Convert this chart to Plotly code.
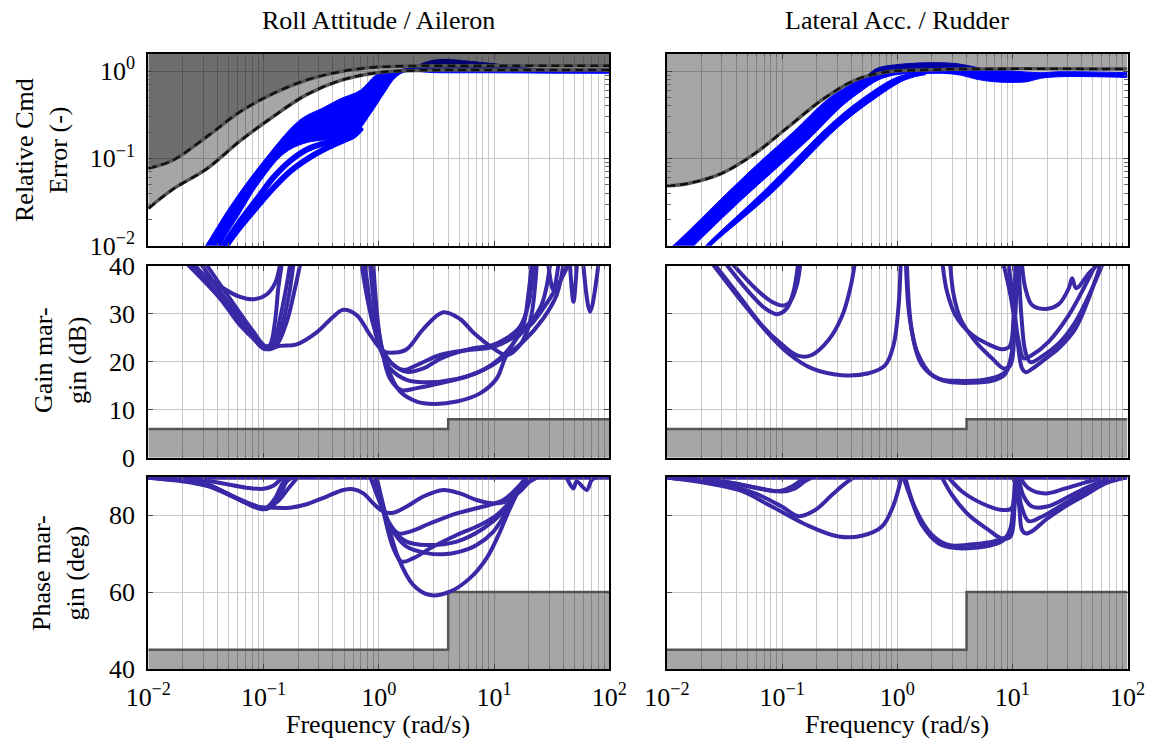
import numpy as np
import plotly.graph_objects as go

# ======================= DATA =======================
# Frequencies are stored as log10(rad/s); top-row magnitudes as log10(-).
freq_ticks = [0.01, 0.1, 1, 10, 100]
freq_ticktext = ['10<sup>−2</sup>', '10<sup>−1</sup>', '10<sup>0</sup>', '10<sup>1</sup>', '10<sup>2</sup>']
cmd_ticks = [0.01, 0.1, 1]
cmd_ticktext = ['10<sup>−2</sup>', '10<sup>−1</sup>', '10<sup>0</sup>']
gm_ticks = [0, 10, 20, 30, 40]
pm_ticks = [40, 60, 80]

col_titles = ['Roll Attitude / Aileron', 'Lateral Acc. / Rudder']
row_titles = ['Relative Cmd<br>Error (-)', 'Gain mar-<br>gin (dB)', 'Phase mar-<br>gin (deg)']
x_title = 'Frequency (rad/s)'

# --- relative command error requirement boundaries ---
roll_outer_lw = [-2.0, -1.783, -1.493, -1.204, -0.915, -0.626, -0.337, -0.048, 0.242, 1.0, 2.0]
roll_outer_lv = [-1.115, -1.019, -0.752, -0.466, -0.256, -0.103, -0.008, 0.042, 0.057, 0.061, 0.061]
roll_inner_lw = [-2.0, -1.783, -1.493, -1.204, -0.915, -0.626, -0.337, -0.048, 0.242, 0.53, 2.0]
roll_inner_lv = [-1.573, -1.35, -1.12, -0.80, -0.52, -0.27, -0.11, -0.025, 0.004, 0.011, 0.011]
lat_bound_lw = [-2.0, -1.815, -1.525, -1.235, -0.945, -0.655, -0.365, -0.076, 0.215, 0.6, 2.0]
lat_bound_lv = [-1.314, -1.287, -1.172, -0.943, -0.638, -0.332, -0.103, -0.008, 0.011, 0.023, 0.023]

# --- relative command error envelopes (upper edge / lower edge) ---
roll_env_up_lw = [-1.65, -1.508, -1.291, -1.012, -0.684, -0.481, -0.337, -0.16, -0.03, 0.05, 0.10, 0.242, 0.30, 0.444, 0.560, 0.733, 0.965, 1.167, 1.312, 1.6, 2.0]
roll_env_up_lv = [-2.30, -2.012, -1.554, -1.05, -0.56, -0.42, -0.32, -0.22, -0.05, 0.0, 0.0, 0.031, 0.049, 0.115, 0.134, 0.118, 0.088, 0.057, 0.031, 0.02, 0.023]
roll_env_lo_lw = [-1.45, -1.378, -1.20, -1.059, -0.828, -0.654, -0.481, -0.337, -0.207, -0.077, 0.053, 0.14, 0.227, 0.5, 1.0, 1.5, 2.0]
roll_env_lo_lv = [-2.30, -2.012, -1.62, -1.32, -0.95, -0.83, -0.79, -0.78, -0.72, -0.50, -0.24, -0.08, -0.01, -0.019, -0.02, -0.024, -0.026]
roll_cmd_lines = [
    ([-1.42, -1.349, -1.204, -1.059, -0.915, -0.770, -0.626, -0.481, -0.35, -0.24, -0.15],
     [-2.2, -2.012, -1.72, -1.47, -1.22, -1.03, -0.90, -0.83, -0.79, -0.74, -0.64]),
    ([-1.38, -1.326, -1.20, -1.074, -0.915, -0.770, -0.60, -0.45, -0.32, -0.22, -0.15],
     [-2.2, -2.012, -1.78, -1.58, -1.34, -1.15, -0.99, -0.88, -0.80, -0.74, -0.65]),
]
lat_wide_up_lw = [-2.1, -1.959, -1.481, -1.191, -0.901, -0.612, -0.438, -0.264, -0.177, -0.032, 0.258, 0.490, 0.635, 0.780, 1.0, 1.243, 1.417, 2.0]
lat_wide_up_lv = [-2.15, -2.012, -1.401, -1.038, -0.695, -0.332, -0.180, -0.05, 0.031, 0.069, 0.095, 0.088, 0.057, 0.019, 0.0, -0.019, -0.008, -0.019]
lat_wide_lo_lw = [-1.87, -1.775, -1.355, -1.066, -0.777, -0.487, -0.340, -0.16, 0.0, 0.2, 0.403, 0.548, 0.693, 0.838, 0.983, 1.128, 1.243, 1.417, 2.0]
lat_wide_lo_lv = [-2.15, -2.012, -1.478, -1.134, -0.790, -0.409, -0.256, -0.10, -0.04, -0.03, -0.027, -0.046, -0.095, -0.122, -0.130, -0.122, -0.084, -0.065, -0.073]
lat_narrow_up_lw = [-1.76, -1.673, -1.151, -0.572, -0.282, 0.008, 0.2]
lat_narrow_up_lv = [-2.15, -2.012, -1.363, -0.600, -0.294, -0.065, -0.02]
lat_narrow_lo_lw = [-1.71, -1.625, -1.09, -0.52, -0.22, 0.07, 0.25]
lat_narrow_lo_lv = [-2.15, -2.012, -1.40, -0.65, -0.34, -0.10, -0.04]

# --- margin requirements ---
req_w = [0.01, 4, 100]
gm_req = [6, 8, 8]
pm_req = [45, 60, 60]

# --- gain margin curves (log10 w, dB) ---
gm_roll = [
    ([-1.66, -1.609, -1.349, -1.204, -1.089, -0.973, -0.901, -0.857], [42, 40.15, 35.3, 33.5, 33.0, 34.0, 36.3, 40.15]),
    ([-1.638, -1.349, -1.204, -1.089, -1.002, -0.944, -0.901, -0.872, -0.843], [40.15, 32.5, 28.3, 24.9, 22.8, 23.5, 28.3, 35.3, 40.15]),
    ([-1.595, -1.320, -1.175, -1.060, -0.987, -0.915, -0.857, -0.799, -0.771], [40.15, 31.8, 27.6, 24.2, 22.6, 23.8, 29.0, 36.0, 40.15]),
    ([-1.537, -1.291, -1.147, -1.031, -0.958, -0.886, -0.799, -0.727, -0.684], [40.15, 31.8, 27.6, 24.2, 22.6, 23.5, 28.3, 35.3, 40.15]),
    ([-1.494, -1.233, -1.089, -0.987, -0.930, -0.857, -0.785, -0.742], [40.15, 31.1, 26.3, 23.3, 23.5, 26.3, 33.2, 40.15]),
    ([-1.653, -1.378, -1.204, -1.060, -0.973, -0.857, -0.713, -0.539, -0.394, -0.308, -0.192, -0.076, 0.039, 0.141, 0.242, 0.386, 0.560, 0.705, 0.820, 0.994, 1.109, 1.225, 1.312, 1.370],
     [40.15, 33.2, 27.6, 24.2, 22.6, 23.3, 23.6, 26.1, 29.4, 30.8, 29.7, 25.6, 22.2, 21.9, 22.6, 26.8, 30.3, 28.9, 26.1, 22.8, 21.4, 23.5, 28.3, 40.15]),
    ([-0.149, -0.105, -0.047, 0.025, 0.126, 0.242, 0.386, 0.531, 0.676, 0.820, 0.965, 1.109, 1.225, 1.297, 1.341],
     [40.15, 33.9, 27.6, 22.8, 19.3, 17.9, 18.6, 20.6, 21.9, 22.8, 23.3, 24.9, 27.3, 31.8, 40.15]),
    ([-0.120, -0.062, 0.011, 0.097, 0.242, 0.386, 0.676, 0.907, 1.052, 1.167, 1.254, 1.297, 1.326],
     [40.15, 30.4, 22.8, 18.6, 16.2, 15.7, 16.4, 18.3, 20.7, 23.8, 27.6, 33.9, 40.15]),
    ([-0.076, -0.018, 0.068, 0.184, 0.329, 0.473, 0.676, 0.878, 1.023, 1.095, 1.196, 1.341, 1.485, 1.572, 1.644],
     [40.15, 28.3, 19.3, 13.8, 11.7, 11.2, 11.7, 13.4, 16.5, 20.7, 24.9, 28.3, 33.2, 36.7, 40.15]),
    ([-0.047, 0.011, 0.097, 0.198, 0.329, 0.531, 0.762, 0.965, 1.109, 1.254, 1.427, 1.543, 1.601],
     [40.15, 24.9, 16.5, 14.1, 14.5, 15.5, 16.9, 19.0, 21.4, 24.2, 29.0, 33.9, 40.15]),
    ([-0.134, -0.076, -0.004, 0.097, 0.213, 0.329, 0.531, 0.762, 0.994, 1.196, 1.398, 1.485],
     [40.15, 31.8, 24.2, 20.0, 18.3, 19.3, 21.4, 22.4, 23.1, 25.6, 31.1, 40.15]),
    ([1.471, 1.514, 1.558], [40.15, 34.9, 40.15]),
    ([1.659, 1.689, 1.718], [40.15, 32.5, 40.15]),
    ([1.775, 1.833, 1.905], [40.15, 30.4, 40.15]),
]
gm_lat = [
    ([-1.481, -1.292, -1.148, -1.046, -0.959, -0.901, -0.863], [40.15, 34.6, 31.1, 29.9, 31.1, 34.6, 40.15]),
    ([-1.423, -1.234, -1.090, -0.988, -0.930, -0.872, -0.843], [40.15, 35.3, 32.5, 31.7, 32.5, 36.0, 40.15]),
    ([-1.582, -1.379, -1.176, -1.003, -0.858, -0.742, -0.597, -0.481, -0.408, -0.371], [40.15, 33.9, 27.6, 23.6, 21.2, 21.4, 24.5, 29.4, 35.3, 40.15]),
    ([-1.597, -1.350, -1.148, -0.945, -0.742, -0.481, -0.249, -0.104, -0.032, 0.012, 0.029], [40.15, 32.5, 26.6, 21.7, 18.6, 17.2, 17.6, 19.3, 23.5, 31.8, 40.15]),
    ([0.076, 0.105, 0.171, 0.302, 0.447, 0.650, 0.824, 0.925, 0.983, 1.012, 1.026], [40.15, 29.7, 22.1, 17.2, 15.8, 15.6, 16.0, 17.1, 20.0, 28.3, 40.15]),
    ([0.084, 0.128, 0.215, 0.360, 0.563, 0.795, 0.939, 0.997, 1.032, 1.041], [40.15, 26.3, 19.3, 16.5, 16.0, 16.4, 17.9, 22.1, 33.9, 40.15]),
    ([0.395, 0.432, 0.505, 0.650, 0.795, 0.910, 0.974, 1.012, 1.032], [40.15, 34.6, 29.7, 25.6, 23.6, 22.6, 23.1, 29.7, 40.15]),
    ([0.461, 0.490, 0.548, 0.679, 0.824, 0.925, 0.983, 1.020, 1.041], [40.15, 33.9, 29.0, 24.2, 20.7, 18.6, 19.3, 28.3, 40.15]),
    ([0.925, 0.983, 1.041, 1.084, 1.119, 1.171, 1.287, 1.403, 1.548, 1.664, 1.765], [40.15, 33.9, 24.9, 18.6, 17.8, 18.5, 20.6, 22.8, 26.9, 33.2, 40.15]),
    ([1.055, 1.078, 1.113, 1.157, 1.258, 1.403, 1.548, 1.693, 1.780], [40.15, 29.7, 22.1, 19.9, 21.1, 23.8, 28.3, 35.3, 40.15]),
    ([1.084, 1.113, 1.171, 1.287, 1.403, 1.490, 1.519, 1.554, 1.664, 1.736], [40.15, 35.3, 31.8, 31.0, 32.0, 35.3, 37.4, 35.3, 38.4, 40.15]),
    ([0.968, 1.012, 1.055, 1.099, 1.171, 1.316, 1.490, 1.635, 1.722], [40.15, 31.8, 24.2, 20.7, 21.4, 24.2, 29.7, 36.0, 40.15]),
]

# --- phase margin curves (log10 w, deg) ---
pm_roll = [
    ([-2.0, 2.0], [89.7, 89.7]),
    ([-2.0, -1.725, -1.494, -1.320, -1.147, -1.016, -0.930, -0.857, -0.799, -0.756], [89.7, 89.1, 87.8, 85.6, 83.0, 81.5, 82.2, 85.2, 88.7, 89.7]),
    ([-2.0, -1.638, -1.407, -1.204, -1.045, -0.973, -0.901, -0.843, -0.799], [89.7, 88.8, 86.9, 83.9, 81.9, 81.9, 84.3, 87.8, 89.7]),
    ([-1.638, -1.349, -1.147, -1.002, -0.915, -0.857, -0.828], [89.7, 88.2, 87.1, 86.8, 87.6, 89.1, 89.7]),
    ([-2.0, -1.551, -1.291, -1.089, -0.987, -0.886, -0.785, -0.713], [89.7, 88.7, 85.2, 82.6, 81.7, 83.3, 86.9, 89.5]),
    ([-2.0, -1.494, -1.233, -1.060, -0.915, -0.771, -0.626, -0.452, -0.308, -0.221, -0.134, -0.047, 0.039, 0.126, 0.242, 0.386, 0.560, 0.705, 0.849, 0.994, 1.109, 1.225, 1.312, 1.370],
     [89.7, 87.6, 84.3, 82.2, 81.9, 81.9, 82.8, 84.8, 86.5, 86.7, 85.6, 83.0, 80.9, 80.6, 82.2, 84.8, 86.5, 85.6, 83.9, 83.0, 83.5, 86.1, 88.7, 89.7]),
    ([-0.071, -0.004, 0.083, 0.170, 0.271, 0.445, 0.676, 0.907, 1.081, 1.196, 1.283], [89.7, 84.3, 78.3, 75.2, 75.7, 77.8, 80.4, 82.2, 83.9, 86.9, 89.7]),
    ([-0.047, 0.025, 0.126, 0.242, 0.415, 0.560, 0.705, 0.849, 0.994, 1.109, 1.225, 1.312], [89.7, 82.6, 75.7, 71.8, 70.1, 69.8, 70.5, 72.2, 75.7, 80.9, 86.9, 89.7]),
    ([-0.033, 0.039, 0.126, 0.198, 0.300, 0.473, 0.676, 0.878, 1.023, 1.138, 1.254, 1.312], [89.7, 80.9, 71.4, 67.9, 68.8, 71.8, 74.8, 77.4, 80.0, 83.5, 88.7, 89.7]),
    ([-0.018, 0.068, 0.170, 0.300, 0.445, 0.618, 0.791, 0.936, 1.052, 1.138, 1.225, 1.297], [89.7, 79.1, 68.8, 61.8, 59.2, 60.1, 63.6, 68.8, 75.7, 81.7, 86.9, 89.7]),
    ([-0.062, 0.011, 0.112, 0.242, 0.415, 0.676, 0.907, 1.081, 1.225, 1.297], [89.7, 83.5, 76.5, 73.1, 72.2, 73.1, 76.5, 80.9, 86.9, 89.7]),
    ([1.630, 1.688, 1.717, 1.804, 1.847, 1.890], [89.7, 86.9, 88.7, 86.5, 89.1, 89.7]),
]
pm_lat = [
    ([-2.0, 2.0], [89.7, 89.7]),
    ([-1.988, -1.524, -1.234, -1.032, -0.916, -0.829, -0.785], [89.7, 88.7, 87.1, 86.2, 87.4, 89.1, 89.7]),
    ([-1.988, -1.466, -1.176, -1.003, -0.887, -0.800, -0.742], [89.7, 88.5, 86.8, 86.1, 86.9, 88.8, 89.7]),
    ([-1.988, -1.524, -1.234, -1.003, -0.858, -0.713, -0.568, -0.452, -0.379], [89.7, 88.2, 85.6, 82.2, 79.7, 81.3, 85.2, 88.2, 89.7]),
    ([-1.988, -1.379, -1.090, -0.800, -0.510, -0.307, -0.133, -0.032, 0.035], [89.7, 86.5, 82.2, 77.6, 74.4, 74.6, 77.0, 82.6, 89.7]),
    ([0.055, 0.128, 0.215, 0.360, 0.505, 0.679, 0.824, 0.925, 0.983, 1.012, 1.026], [89.7, 83.5, 77.4, 72.6, 71.4, 71.5, 72.2, 73.5, 76.5, 84.3, 89.7]),
    ([0.070, 0.157, 0.302, 0.447, 0.650, 0.853, 0.968, 1.012, 1.032], [89.7, 81.7, 74.8, 72.2, 72.4, 73.3, 74.8, 82.6, 89.7]),
    ([0.389, 0.476, 0.621, 0.795, 0.910, 0.983, 1.020, 1.041], [89.7, 85.2, 80.0, 76.1, 73.9, 74.4, 82.6, 89.7]),
    ([0.447, 0.563, 0.737, 0.910, 0.991, 1.026, 1.044], [89.7, 86.1, 83.0, 81.3, 81.7, 86.1, 89.7]),
    ([1.032, 1.061, 1.084, 1.119, 1.186, 1.287, 1.432, 1.635, 1.809, 1.983], [89.7, 81.7, 76.1, 75.2, 76.1, 78.7, 81.7, 85.2, 88.2, 89.7]),
    ([1.041, 1.084, 1.142, 1.258, 1.432, 1.635, 1.838, 1.983], [89.7, 81.7, 78.4, 79.6, 82.6, 86.1, 88.7, 89.7]),
    ([1.070, 1.142, 1.287, 1.461, 1.664, 1.809], [89.7, 86.9, 85.6, 86.9, 88.7, 89.7]),
    ([1.055, 1.099, 1.171, 1.302, 1.490, 1.664, 1.838], [89.7, 84.8, 82.2, 82.2, 84.8, 87.4, 89.4]),
]

# ======================= STYLE =======================
W, H = 1151, 747
FONT = 'Liberation Serif'
FS = 26
BLUE = '#0000ff'
PURPLE = '#3a29a6'
GRID = '#c8c8c8'
BOUND = '#555555'
FILL_LIGHT = 'rgba(0,0,0,0.35)'
FILL_DARK = 'rgba(0,0,0,0.57)'

x_dom = [[148.3 / W, 609.3 / W], [667.0 / W, 1127.5 / W]]
y_dom = [[1 - 245.7 / H, 1 - 54.0 / H], [1 - 457.7 / H, 1 - 265.7 / H], [1 - 669.0 / H, 1 - 476.5 / H]]
cmd_range = [-2, 0.195]
gm_range = [0, 40]
pm_range = [40, 90]
top_fill_level = 10 ** 0.5


def P(a):
    return [10 ** v for v in a]


def axn(i):
    return ('x', 'y') if i == 1 else (f'x{i}', f'y{i}')


fig = go.Figure()


def add(i, x, y, **kw):
    xa, ya = axn(i)
    fig.add_trace(go.Scatter(x=x, y=y, xaxis=xa, yaxis=ya, mode='lines',
                             hoverinfo='skip', showlegend=False, **kw))


def band(i, lo_w, lo_v, up_w, up_v, color):
    add(i, P(lo_w), P(lo_v), line=dict(color=color, width=1, shape='spline'))
    add(i, P(up_w), P(up_v), line=dict(color=color, width=1, shape='spline'),
        fill='tonexty', fillcolor=color)


def boundary_line(i, w, v):
    add(i, P(w), P(v), line=dict(color=BOUND, width=3.5, shape='spline'))
    add(i, P(w), P(v), line=dict(color='#111111', width=2.5, shape='spline', dash='8px,5px'))


# ---- top-left: Roll attitude relative command error ----
band(1, roll_env_lo_lw, roll_env_lo_lv, roll_env_up_lw, roll_env_up_lv, BLUE)
for w, v in roll_cmd_lines:
    add(1, P(w), P(v), line=dict(color=BLUE, width=6, shape='spline'))
add(1, [0.01, 100], [top_fill_level, top_fill_level], line=dict(width=0))
add(1, P(roll_outer_lw), P(roll_outer_lv), line=dict(width=0, shape='spline'),
    fill='tonexty', fillcolor=FILL_DARK)
add(1, P(roll_inner_lw), P(roll_inner_lv), line=dict(width=0, shape='spline'),
    fill='tonexty', fillcolor=FILL_LIGHT)
boundary_line(1, roll_outer_lw, roll_outer_lv)
boundary_line(1, roll_inner_lw, roll_inner_lv)

# ---- top-right: Lateral acceleration relative command error ----
band(2, lat_wide_lo_lw, lat_wide_lo_lv, lat_wide_up_lw, lat_wide_up_lv, BLUE)
band(2, lat_narrow_lo_lw, lat_narrow_lo_lv, lat_narrow_up_lw, lat_narrow_up_lv, BLUE)
add(2, [0.01, 100], [top_fill_level, top_fill_level], line=dict(width=0))
add(2, P(lat_bound_lw), P(lat_bound_lv), line=dict(width=0, shape='spline'),
    fill='tonexty', fillcolor=FILL_LIGHT)
boundary_line(2, lat_bound_lw, lat_bound_lv)

# ---- margins ----
for i, req, curves in [(3, gm_req, gm_roll), (4, gm_req, gm_lat), (5, pm_req, pm_roll), (6, pm_req, pm_lat)]:
    add(i, req_w, req, line=dict(color=BOUND, width=2.5, shape='hv'),
        fill='tozeroy', fillcolor=FILL_LIGHT)
    for w, v in curves:
        add(i, P(w), v, line=dict(color=PURPLE, width=4, shape='spline'))

# ======================= LAYOUT =======================
minor_vals = [m * 10 ** k for k in range(-2, 2) for m in range(2, 10)]
tickfont = dict(family=FONT, size=FS, color='black')
layout = dict(width=W, height=H, margin=dict(l=0, r=0, t=0, b=0, autoexpand=False),
              paper_bgcolor='white', plot_bgcolor='white',
              font=dict(family=FONT, size=FS, color='black'), showlegend=False)

for r in range(3):
    for c in range(2):
        i = r * 2 + c + 1
        xk = 'xaxis' if i == 1 else f'xaxis{i}'
        yk = 'yaxis' if i == 1 else f'yaxis{i}'
        xa, ya = axn(i)
        layout[xk] = dict(
            domain=x_dom[c], anchor=ya, type='log', range=[-2, 2], automargin=False,
            tickmode='array', tickvals=freq_ticks, ticktext=freq_ticktext, tickfont=tickfont,
            showticklabels=(r == 2), ticks='inside', ticklen=5, tickcolor='#444',
            showgrid=True, gridcolor=GRID, gridwidth=1, zeroline=False,
            showline=True, linecolor='black', linewidth=2, mirror='ticks',
            ticklabelstandoff=4,
            minor=dict(tickmode='array', tickvals=minor_vals, showgrid=True, gridcolor=GRID,
                       gridwidth=1, ticks='inside', ticklen=3, tickcolor='#666'),
        )
        ydict = dict(domain=y_dom[r], anchor=xa, showticklabels=(c == 0), ticks='inside',
                     automargin=False, tickfont=tickfont,
                     ticklen=5, tickcolor='#444', showgrid=True, gridcolor=GRID, gridwidth=1,
                     zeroline=False, showline=True, linecolor='black', linewidth=2,
                     mirror='ticks', ticklabelstandoff=6)
        if r == 0:
            ydict.update(type='log', range=cmd_range, tickmode='array', tickvals=cmd_ticks,
                         ticktext=cmd_ticktext,
                         minor=dict(tickmode='array',
                                    tickvals=[m * 10 ** k for k in range(-2, 1) for m in range(2, 10)],
                                    showgrid=False, ticks='inside', ticklen=4, tickcolor='#666'))
        elif r == 1:
            ydict.update(range=gm_range, tickmode='array', tickvals=gm_ticks)
        else:
            ydict.update(range=pm_range, tickmode='array', tickvals=pm_ticks)
        layout[yk] = ydict

ann = []
col_cx = [378.0 / W, 897.0 / W]
for c in range(2):
    ann.append(dict(text=col_titles[c], x=col_cx[c], y=1 - 20 / H, xref='paper', yref='paper',
                    xanchor='center', yanchor='middle', showarrow=False, font=dict(size=FS)))
    ann.append(dict(text=x_title, x=col_cx[c], y=1 - 724 / H, xref='paper', yref='paper',
                    xanchor='center', yanchor='middle', showarrow=False, font=dict(size=FS)))
row_pos = [(41 / W, 1 - 150 / H), (60 / W, 1 - 360 / H), (58 / W, 1 - 573 / H)]
for r in range(3):
    ann.append(dict(text=row_titles[r], x=row_pos[r][0], y=row_pos[r][1], xref='paper', yref='paper',
                    xanchor='center', yanchor='middle', textangle=-90, showarrow=False,
                    font=dict(size=FS)))
layout['annotations'] = ann

fig.update_layout(**layout)
fig.write_html('out.html')
